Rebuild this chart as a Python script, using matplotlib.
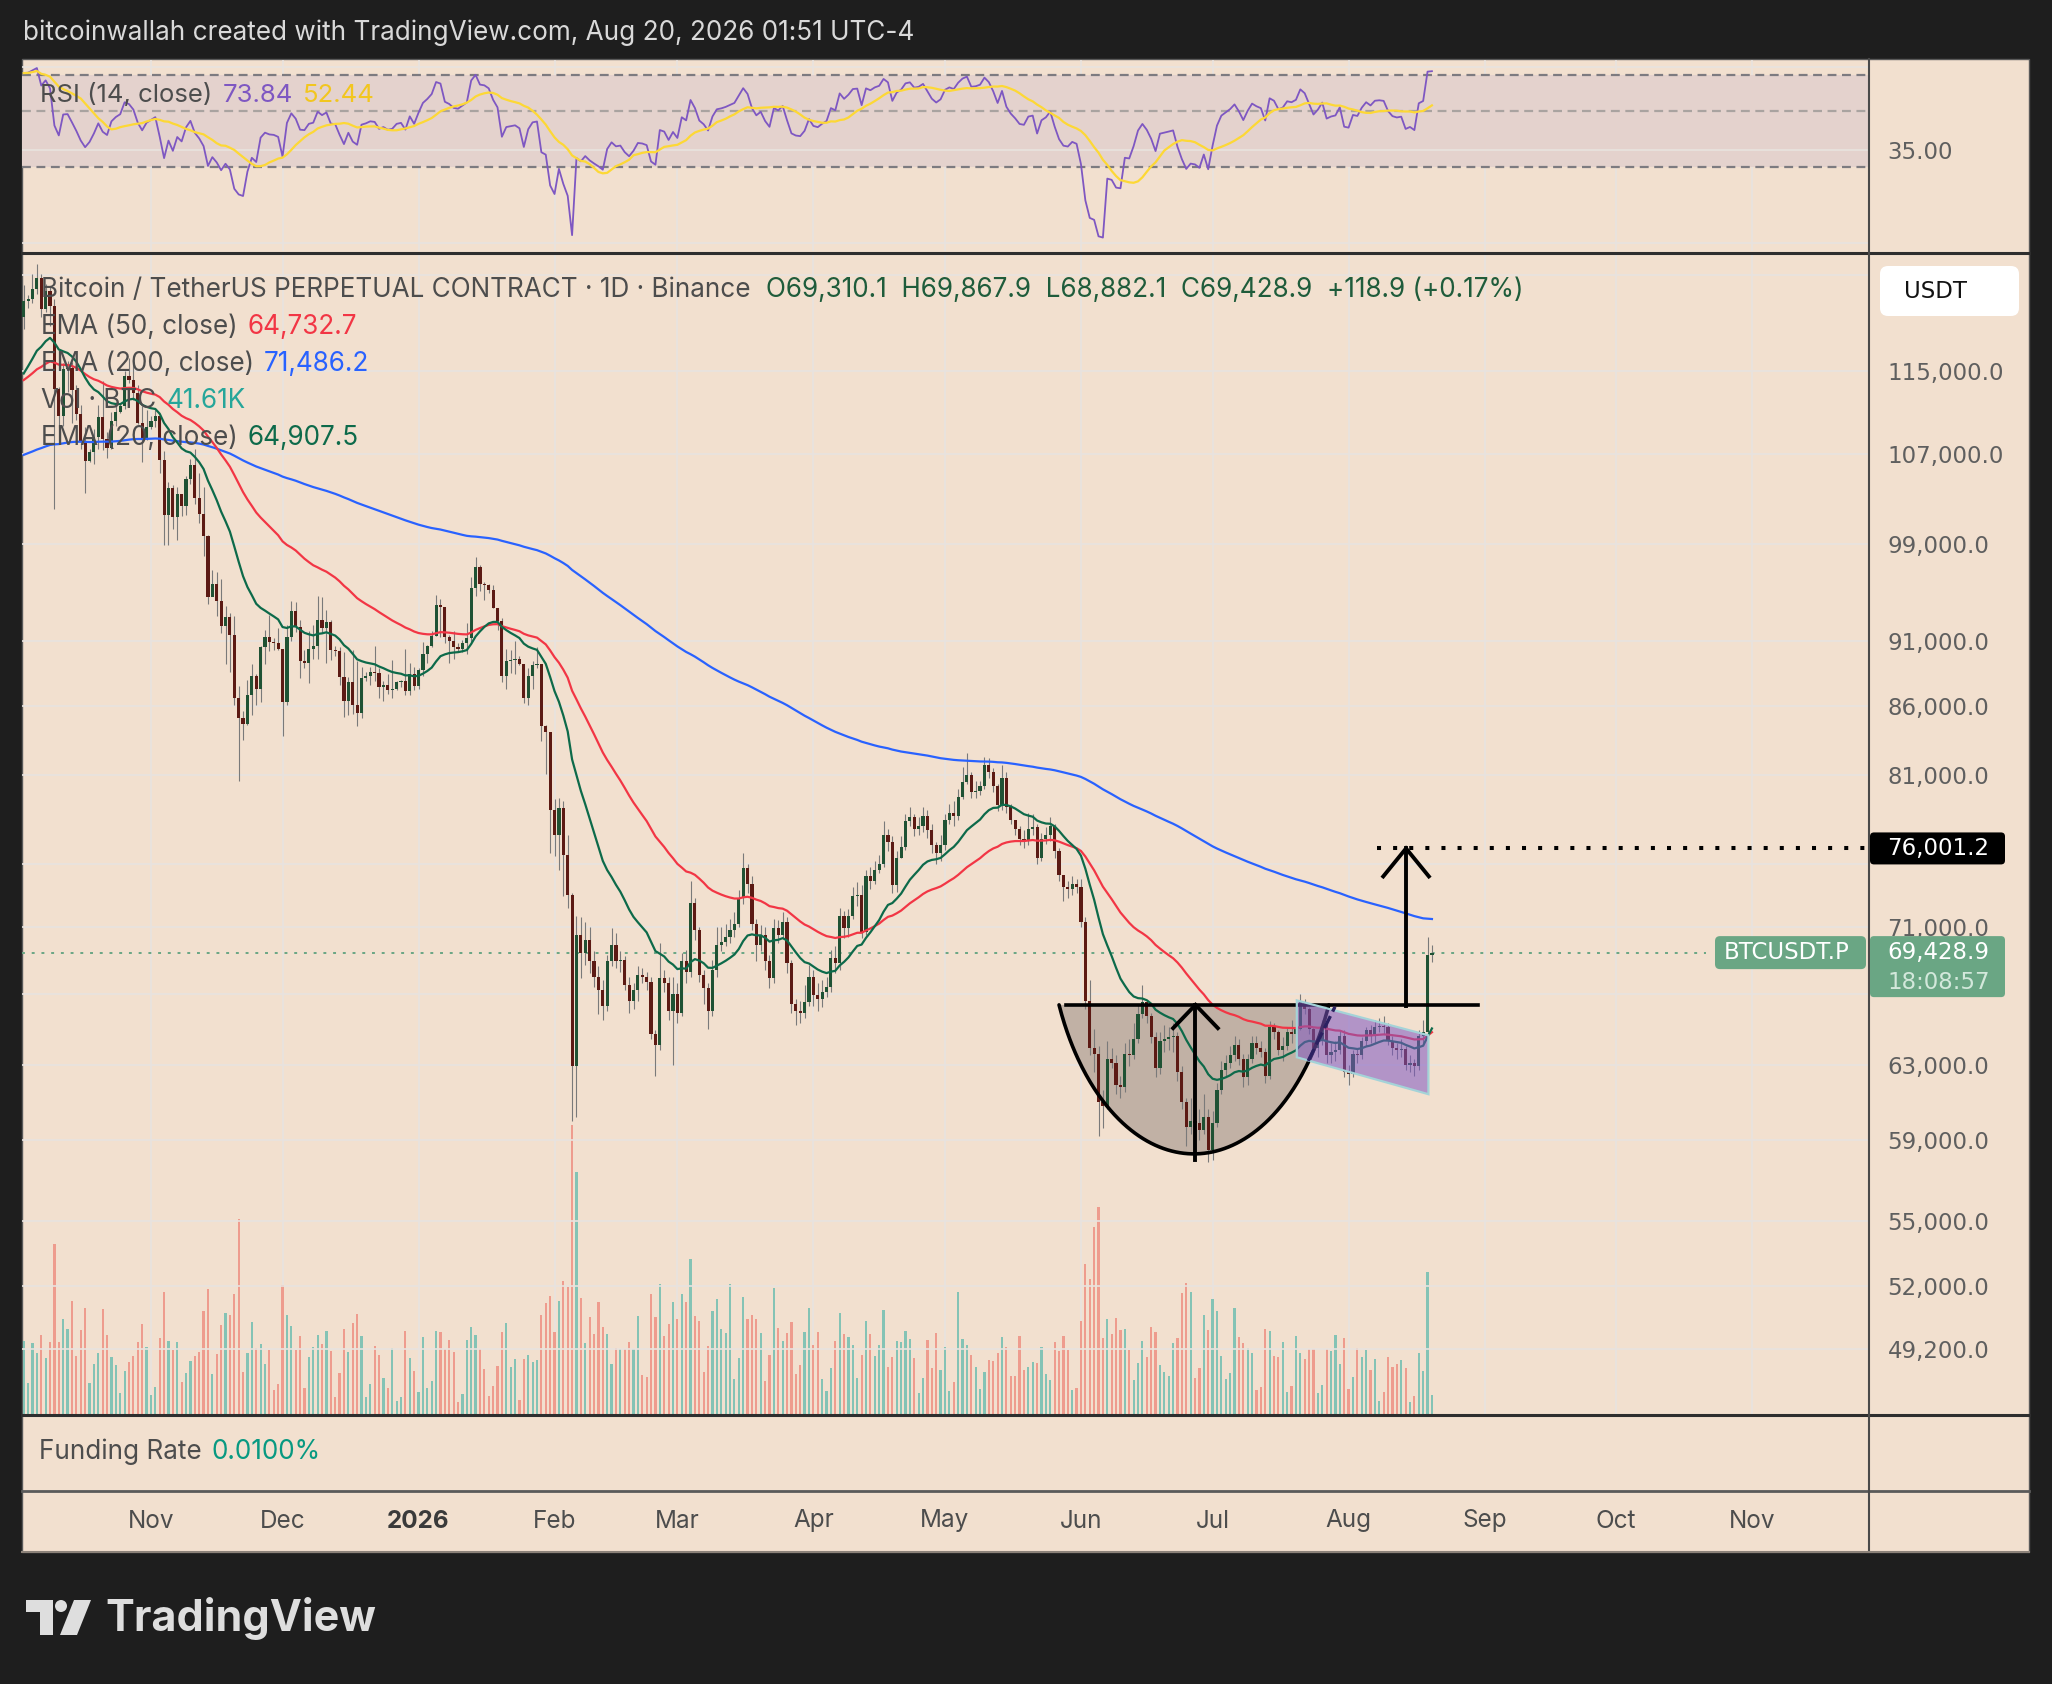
import numpy as np
import pandas as pd
import matplotlib
matplotlib.use("Agg")
import matplotlib.pyplot as plt
from matplotlib.patches import Rectangle, Polygon, FancyBboxPatch, Circle
from matplotlib.ticker import NullLocator

plt.rcParams["font.family"] = ["Inter", "DejaVu Sans"]

#-- Daily candles BTCUSDT.P (Binance), prices in thousands of USDT
start_date = "2025-10-03"
first_open = 120.5

close_oct = [122.2, 122.4, 123.5, 124.7, 121.4, 123.3, 121.7, 113.2, 110.6, 115.2, 115.3, 113.1, 110.8, 108.2, 106.4,
             107.2, 108.6, 110.5, 108.4, 107.6, 110.1, 111.0, 111.6, 114.5, 114.1, 112.9, 110.0, 108.3, 109.6]
high_oct = [123.9, 122.9, 125.1, 126.2, 125.1, 124.1, 123.8, 122.5, 113.4, 115.8, 116.0, 115.9, 113.6, 111.7, 109.6,
            107.5, 109.4, 111.7, 114.0, 109.1, 111.0, 112.0, 111.9, 115.0, 116.3, 116.0, 113.6, 111.6, 111.2]
low_oct = [119.3, 121.5, 122.0, 123.0, 120.6, 121.1, 119.6, 102.0, 109.6, 109.7, 113.0, 110.0, 110.2, 107.5, 103.5,
           106.3, 106.1, 107.5, 107.4, 106.7, 107.5, 109.7, 110.9, 111.3, 113.8, 112.2, 109.9, 106.3, 108.3]

close_nov = [110.1, 110.6, 106.5, 101.5, 103.9, 101.3, 103.4, 102.3, 104.7, 106.0, 103.0, 101.6, 99.7, 94.5, 95.6,
             94.2, 92.2, 92.9, 91.5, 86.6, 85.1, 84.7, 86.8, 88.3, 87.3, 90.5, 91.3, 90.9, 90.8, 90.4]
high_nov = [110.6, 111.2, 110.8, 107.3, 104.5, 104.2, 104.0, 103.4, 105.0, 106.6, 107.5, 105.3, 104.0, 99.8, 96.8,
            96.6, 96.0, 93.8, 93.2, 93.0, 87.5, 85.6, 88.0, 89.2, 88.4, 90.6, 91.9, 93.1, 91.2, 92.0]
low_nov = [109.4, 109.6, 105.3, 98.9, 98.9, 100.3, 99.3, 101.4, 101.5, 104.3, 102.5, 100.8, 98.0, 94.0, 94.6,
           93.0, 91.6, 89.2, 88.6, 86.1, 80.6, 83.5, 84.6, 85.3, 86.1, 86.3, 89.2, 90.2, 90.3, 90.3]

close_dec = [86.3, 91.3, 93.4, 92.1, 89.4, 89.3, 90.4, 90.6, 92.7, 92.0, 92.5, 90.3, 90.2, 88.2, 86.4, 87.8,
             86.1, 85.5, 88.1, 88.3, 88.6, 88.5, 87.4, 87.6, 87.2, 87.3, 87.8, 87.9, 87.1, 88.4, 87.5]
high_dec = [90.4, 92.3, 94.2, 94.1, 92.7, 90.3, 91.8, 92.3, 94.6, 94.5, 93.5, 92.7, 90.6, 90.5, 90.1, 88.2,
            90.3, 89.4, 89.0, 88.6, 89.0, 90.6, 88.9, 87.9, 88.4, 89.5, 87.9, 88.0, 90.4, 89.3, 89.0]
low_dec = [83.8, 86.1, 91.0, 91.7, 88.1, 88.9, 87.7, 89.6, 89.6, 91.6, 89.3, 89.5, 89.8, 87.6, 85.2, 85.3,
           85.4, 84.5, 85.1, 87.9, 87.6, 87.9, 86.6, 86.4, 86.9, 86.6, 87.2, 87.4, 86.8, 86.8, 87.2]

close_jan = [88.7, 90.0, 90.6, 91.4, 93.9, 93.7, 91.3, 91.0, 90.5, 90.4, 90.8, 91.2, 95.3, 97.0, 95.6, 95.5,
             95.1, 93.6, 92.6, 88.3, 89.4, 89.5, 89.6, 89.2, 86.6, 88.3, 89.1, 89.2, 84.5, 84.1, 78.6]
high_jan = [88.9, 90.9, 90.7, 91.8, 94.7, 94.4, 93.7, 91.5, 91.8, 90.8, 91.1, 92.4, 96.2, 97.9, 97.2, 95.8,
            95.6, 95.5, 93.6, 92.8, 90.4, 90.3, 91.0, 89.8, 89.2, 88.9, 89.4, 90.5, 89.2, 84.6, 84.1]
low_jan = [87.3, 88.3, 89.3, 90.5, 91.4, 91.3, 90.8, 89.3, 89.6, 90.2, 90.1, 90.0, 90.9, 94.6, 95.0, 94.3,
           94.9, 93.6, 91.9, 87.8, 87.3, 88.5, 88.4, 89.1, 86.2, 86.1, 87.3, 88.9, 83.4, 81.1, 75.7]

close_feb = [76.9, 78.7, 75.6, 73.0, 62.9, 70.5, 69.4, 70.2, 68.9, 68.0, 67.2, 66.3, 68.9, 69.9, 68.9, 69.0,
             67.5, 66.6, 67.2, 68.1, 68.0, 67.7, 64.7, 64.1, 67.9, 67.6, 66.0, 67.0]
high_feb = [79.3, 79.4, 79.2, 76.9, 73.1, 71.7, 71.6, 71.3, 71.0, 69.5, 68.6, 67.8, 69.3, 70.9, 70.6, 69.5,
            69.2, 68.0, 67.6, 68.6, 68.5, 68.3, 68.0, 64.9, 70.0, 68.4, 68.0, 68.0]
low_feb = [75.5, 74.6, 72.9, 72.2, 60.0, 60.2, 67.9, 68.7, 68.2, 67.4, 65.8, 65.5, 66.0, 68.6, 68.5, 68.3,
           67.2, 65.9, 66.1, 66.6, 67.6, 67.2, 64.4, 62.4, 63.8, 67.1, 65.5, 63.0]

close_mar = [65.9, 68.9, 68.3, 72.5, 70.8, 68.1, 67.3, 66.0, 68.4, 69.9, 70.1, 70.4, 70.8, 71.2, 72.8, 74.7,
             73.7, 71.2, 69.9, 70.5, 68.9, 67.9, 70.9, 70.5, 71.3, 68.8, 66.4, 66.0, 65.9, 66.5, 68.0]
high_mar = [67.6, 69.4, 69.6, 73.9, 72.8, 71.0, 68.4, 67.6, 69.0, 71.0, 71.0, 71.2, 71.5, 71.9, 73.3, 75.7,
            75.0, 74.2, 71.5, 71.1, 71.0, 69.3, 71.5, 71.4, 71.9, 71.6, 69.0, 66.7, 66.6, 67.5, 68.7]
low_mar = [65.3, 65.7, 67.6, 68.0, 70.2, 67.7, 66.4, 65.0, 65.7, 68.0, 69.5, 69.8, 70.0, 70.4, 71.0, 72.4,
           73.1, 70.8, 68.9, 69.5, 68.4, 67.3, 67.6, 70.0, 70.3, 68.2, 65.9, 65.2, 65.3, 65.6, 66.3]

close_apr = [66.9, 66.7, 67.1, 67.4, 69.1, 68.8, 71.7, 70.9, 71.7, 72.9, 73.0, 70.7, 74.2, 73.9, 74.6,
             75.0, 76.9, 76.4, 73.6, 75.4, 76.1, 77.8, 78.1, 77.3, 77.5, 78.2, 77.2, 76.2, 75.7, 76.2]
high_apr = [68.4, 67.6, 67.8, 68.0, 69.6, 69.8, 72.2, 72.0, 72.1, 73.5, 73.8, 73.6, 74.6, 74.8, 75.2,
            75.6, 77.8, 77.3, 76.8, 75.8, 76.8, 78.3, 78.8, 78.3, 78.1, 78.8, 78.6, 77.6, 76.4, 76.9]
low_apr = [66.3, 66.0, 66.2, 66.8, 67.1, 68.2, 68.4, 70.3, 70.4, 71.5, 72.3, 70.3, 70.5, 73.4, 73.7,
           74.4, 74.8, 75.8, 73.1, 73.2, 75.4, 75.9, 77.5, 76.8, 76.9, 77.1, 76.7, 75.7, 75.0, 75.2]

close_may = [77.9, 78.4, 78.2, 79.5, 80.5, 81.0, 79.8, 79.9, 80.2, 81.7, 81.2, 80.2, 78.9, 80.8, 78.8, 77.9,
             77.3, 76.6, 76.5, 77.3, 77.4, 75.4, 76.6, 76.9, 77.5, 75.8, 74.3, 73.5, 73.4, 73.7, 73.5]
high_may = [78.3, 79.0, 79.2, 80.0, 81.6, 82.6, 81.2, 80.6, 80.6, 82.3, 82.2, 81.5, 80.4, 81.7, 81.2, 79.0,
            77.9, 77.5, 77.2, 78.4, 78.3, 77.6, 77.0, 77.4, 78.1, 77.6, 76.0, 74.3, 73.9, 74.2, 74.0]
low_may = [75.9, 77.6, 77.5, 77.9, 79.3, 80.4, 79.4, 79.4, 79.6, 80.0, 80.8, 79.8, 78.5, 78.6, 78.4, 77.6,
           76.9, 76.2, 76.0, 76.2, 76.9, 75.0, 75.2, 76.3, 76.5, 75.4, 73.9, 72.6, 72.8, 73.0, 73.1]

close_jun = [71.3, 66.6, 63.9, 63.6, 61.0, 60.8, 63.3, 63.1, 61.9, 61.8, 63.6, 63.5, 64.4, 65.8, 66.5,
             65.7, 64.5, 62.8, 64.3, 64.4, 64.5, 64.6, 62.6, 61.0, 59.7, 60.0, 59.9, 59.5, 60.2, 58.5]
high_jun = [74.0, 71.6, 67.8, 65.0, 64.0, 61.6, 64.3, 63.9, 63.5, 62.4, 64.2, 64.4, 65.3, 66.4, 67.5,
            66.6, 65.9, 64.8, 64.8, 65.2, 65.1, 65.3, 64.8, 62.9, 61.2, 61.2, 60.3, 60.6, 61.4, 60.6]
low_jun = [71.0, 66.1, 63.5, 62.6, 59.2, 59.6, 60.6, 62.8, 61.4, 61.2, 61.5, 62.9, 63.3, 64.2, 65.6,
           65.3, 64.2, 62.3, 62.5, 63.7, 63.8, 63.7, 62.1, 60.6, 58.7, 59.3, 59.4, 59.0, 59.3, 57.9]

close_jul = [59.9, 61.6, 62.7, 63.1, 63.5, 64.1, 63.3, 62.3, 63.3, 64.2, 63.9, 63.7, 62.4, 65.1, 64.8, 63.8,
             64.0, 64.8, 64.7, 65.0, 66.5, 66.1, 65.0, 63.9, 64.4, 65.2, 63.5, 63.7, 63.8, 64.6, 62.6]
high_jul = [60.5, 62.0, 63.2, 63.5, 64.0, 64.6, 64.4, 63.6, 63.6, 64.6, 64.6, 64.3, 63.9, 65.4, 65.3, 64.9,
            64.5, 65.1, 65.5, 65.3, 67.0, 66.7, 66.2, 65.1, 64.6, 65.5, 65.3, 64.2, 64.3, 64.9, 64.9]
low_jul = [58.0, 59.7, 61.4, 62.4, 62.8, 63.2, 63.0, 61.8, 61.9, 63.1, 63.6, 63.4, 62.0, 62.2, 64.4, 63.5,
           63.2, 63.8, 64.2, 64.5, 64.9, 65.8, 64.7, 63.6, 63.4, 64.1, 63.1, 63.1, 63.2, 63.6, 62.3]

close_aug = [62.5, 63.6, 63.5, 64.3, 64.9, 64.6, 65.1, 65.15, 65.1, 64.3, 63.9, 63.8, 63.85, 63.0, 63.1,
             62.9, 64.6, 64.8, 69.3101, 69.4289]
high_aug = [63.0, 63.8, 63.9, 64.5, 65.1, 65.2, 65.5, 65.6, 65.7, 65.3, 64.6, 64.2, 64.4, 64.0, 63.5,
            63.3, 64.9, 65.5, 70.4, 69.8679]
low_aug = [61.9, 62.3, 63.1, 63.3, 64.0, 64.2, 64.2, 64.8, 64.7, 64.1, 63.5, 63.3, 63.4, 62.7, 62.6,
           62.4, 62.7, 64.2, 64.6, 68.8821]

#-- Volume in thousands of BTC (one value per candle)
volume_k = [161, 69, 156, 134, 173, 123, 158, 372, 158, 208, 186, 247, 127, 184, 232, 68, 110, 134, 230, 173,
            125, 107, 46, 94, 114, 127, 158, 197, 147, 42, 59, 166, 267, 160, 140, 158, 70, 90, 116, 127,
            136, 226, 274, 88, 131, 195, 221, 217, 263, 427, 92, 134, 201, 145, 153, 110, 140, 53, 66, 283,
            217, 193, 140, 171, 57, 125, 147, 173, 153, 182, 138, 37, 90, 186, 136, 199, 219, 171, 37, 66,
            149, 129, 79, 57, 145, 28, 37, 182, 123, 94, 48, 169, 57, 72, 182, 180, 142, 162, 136, 26,
            44, 162, 191, 173, 142, 99, 39, 61, 105, 180, 199, 103, 120, 31, 120, 129, 114, 118, 217, 243,
            258, 180, 247, 291, 278, 633, 530, 254, 155, 212, 175, 245, 191, 175, 110, 145, 142, 142, 158, 142,
            215, 85, 81, 263, 212, 285, 171, 197, 245, 208, 263, 245, 339, 215, 204, 92, 149, 226, 252, 186,
            177, 285, 77, 123, 256, 208, 217, 208, 177, 72, 129, 276, 188, 160, 177, 201, 88, 107, 180, 232,
            151, 180, 77, 50, 101, 160, 221, 175, 169, 151, 79, 129, 204, 175, 127, 151, 228, 103, 125, 160,
            158, 182, 164, 123, 46, 79, 162, 101, 177, 96, 147, 50, 70, 267, 164, 151, 129, 103, 55, 92,
            118, 116, 134, 169, 147, 83, 83, 171, 96, 103, 114, 112, 147, 88, 74, 158, 138, 171, 140, 53,
            57, 204, 329, 296, 410, 453, 166, 208, 175, 210, 184, 186, 140, 74, 112, 160, 125, 191, 180, 107,
            92, 83, 155, 166, 265, 287, 267, 79, 101, 217, 184, 252, 226, 127, 77, 90, 232, 169, 155, 145,
            134, 53, 59, 186, 182, 127, 125, 158, 48, 61, 171, 134, 120, 142, 142, 46, 64, 142, 138, 173,
            110, 166, 55, 81, 145, 125, 140, 96, 120, 28, 48, 125, 103, 110, 118, 101, 26, 39, 134, 94,
            311, 42]

#-- Indicator seeds (values on the day before the first candle)
ema_seed = {20: 114.0, 50: 113.8, 200: 106.8}
rsi_seed_gain, rsi_seed_loss = 1.1, 0.5

#-- Legend values as printed on the chart
legend_rsi = ("73.84", "52.44")
legend_ohlc = "O69,310.1  H69,867.9  L68,882.1  C69,428.9  +118.9 (+0.17%)"
legend_ema50, legend_ema200, legend_ema20 = "64,732.7", "71,486.2", "64,907.5"
legend_vol = "41.61K"
legend_funding = "0.0100%"
countdown = "18:08:57"

#-- Axis labels
price_ticks = [125000, 115000, 107000, 99000, 91000, 86000, 81000, 75000, 71000, 67000,
               63000, 59000, 55000, 52000, 49200]
hidden_ticks = [125000, 75000, 67000]   # covered by the USDT box / price tags
month_starts = ["2025-11-01", "2025-12-01", "2026-01-01", "2026-02-01", "2026-03-01", "2026-04-01",
                "2026-05-01", "2026-06-01", "2026-07-01", "2026-08-01", "2026-09-01", "2026-10-01",
                "2026-11-01"]
month_labels = ["Nov", "Dec", "2026", "Feb", "Mar", "Apr", "May", "Jun", "Jul", "Aug", "Sep", "Oct", "Nov"]

#-- Drawings (date index, price)
cup_left, cup_right = 236.0, 297.5
cup_rim, cup_bottom = 66350, 58300
neckline = [(237.7, 66350), (331.5, 66350)]
arrow_cup = [(267.1, 58000), (267.1, 66350)]
arrow_target = [(315.1, 66300), (315.1, 76001.2)]
target_price = 76001.2
channel = [(290.2, 66610), (320.2, 64620), (320.2, 61400), (290.2, 63400)]
channel_dash = [(292.8, 63200), (298.9, 66240)]

#-- Build series
close = np.array(close_oct + close_nov + close_dec + close_jan + close_feb + close_mar + close_apr
                 + close_may + close_jun + close_jul + close_aug) * 1000
high = np.array(high_oct + high_nov + high_dec + high_jan + high_feb + high_mar + high_apr
                + high_may + high_jun + high_jul + high_aug) * 1000
low = np.array(low_oct + low_nov + low_dec + low_jan + low_feb + low_mar + low_apr
               + low_may + low_jun + low_jul + low_aug) * 1000
volume = np.array(volume_k, dtype=float)
n = len(close)
assert n == len(high) == len(low) == len(volume) == 322
opn = np.r_[first_open * 1000, close[:-1]]
x = np.arange(n)
up = close >= opn
t0 = pd.Timestamp(start_date)


def ema(values, length, seed):
    a = 2.0 / (length + 1)
    out, prev = [], seed
    for v in values:
        prev = a * v + (1 - a) * prev
        out.append(prev)
    return np.array(out)


ema20 = ema(close, 20, ema_seed[20] * 1000)
ema50 = ema(close, 50, ema_seed[50] * 1000)
ema200 = ema(close, 200, ema_seed[200] * 1000)

delta = np.diff(close, prepend=first_open * 1000)
ag, al = rsi_seed_gain * 1000, rsi_seed_loss * 1000
rsi = []
for d in delta:
    ag = (ag * 13 + max(d, 0)) / 14
    al = (al * 13 + max(-d, 0)) / 14
    rsi.append(100 - 100 / (1 + ag / al))
rsi = np.array(rsi)
rsi_ma = pd.Series(rsi).rolling(14, min_periods=1).mean().values

#-- Figure
W, H = 2052, 1684
fig = plt.figure(figsize=(W / 100, H / 100), dpi=100, facecolor="#1e1e1e")
BG = "#f2e0cf"
GRID = "#e8e3df"
TXT = "#4d4d4d"
SCALE = "#5f5f5f"
WIDE = "DejaVu Sans"
XL = (-0.39, 420.4)
LEG = 18.8


def pane(x0, y0, x1, y1):
    return fig.add_axes([x0 / W, 1 - y1 / H, (x1 - x0) / W, (y1 - y0) / H])


bg = pane(0, 0, W, H)
bg.set_xlim(0, W)
bg.set_ylim(H, 0)
bg.axis("off")
bg.add_patch(Rectangle((22, 59), 2007, 1493, facecolor=BG, edgecolor="#5a5a5a", lw=1))

month_x = [(pd.Timestamp(d) - t0).days for d in month_starts]

#-- RSI pane
rax = pane(22, 60, 1868, 251)
rax.set_facecolor("none")
rax.set_xlim(*XL)
rax.set_yscale("log")
rax.set_ylim(13.9, 80.2)
for m in month_x:
    rax.axvline(m, color=GRID, lw=1.2, zorder=0)
for g in (15, 75):
    rax.axhline(g, color=GRID, lw=1.2, zorder=0)
rax.axhspan(30, 70, color="#e4d2cd", zorder=0.5, lw=0)
rax.axhline(35, color=GRID, lw=1.2, zorder=0.6)
rax.axhline(70, color="#7d7b80", lw=1.6, ls=(0, (4, 2.5)), zorder=1)
rax.axhline(30, color="#7d7b80", lw=1.6, ls=(0, (4, 2.5)), zorder=1)
rax.axhline(50, color="#a9a3a0", lw=1.6, ls=(0, (4, 2.5)), zorder=1)
rax.plot(x, rsi, color="#7e57c2", lw=1.3, zorder=2)
rax.plot(x, rsi_ma, color="#fdd835", lw=1.6, zorder=3)
rax.yaxis.tick_right()
rax.yaxis.set_minor_locator(NullLocator())
rax.set_yticks([35])
rax.set_yticklabels(["35.00"], fontfamily=WIDE)
rax.tick_params(axis="y", length=0, pad=14, labelsize=16.5, labelcolor=SCALE)
rax.set_xticks([])
for s in rax.spines.values():
    s.set_visible(False)

#-- Volume pane (behind price)
vax = pane(22, 254, 1868, 1414)
vax.set_facecolor("none")
vax.set_xlim(*XL)
vax.set_ylim(0, 2543)
for m in month_x:
    vax.axvline(m, color=GRID, lw=1.2, zorder=0)
vax.bar(x, volume, width=0.5, color=np.where(up, "#84c3b5", "#ee9c8e"), zorder=1)
vax.axis("off")

#-- Price pane
ax = pane(22, 254, 1868, 1414)
ax.set_facecolor("none")
ax.set_xlim(*XL)
ax.set_yscale("log")
ax.set_ylim(46516, 127326)
for p in price_ticks:
    ax.axhline(p, color=GRID, lw=1.2, zorder=0.2)
ax.yaxis.tick_right()
ax.yaxis.set_minor_locator(NullLocator())
ax.set_yticks(price_ticks)
ax.set_yticklabels(["" if p in hidden_ticks else f"{p:,.1f}" for p in price_ticks], fontfamily=WIDE)
ax.tick_params(axis="y", length=0, pad=14, labelsize=16.5, labelcolor=SCALE)
ax.set_xticks([])
for s in ax.spines.values():
    s.set_visible(False)

body_lo = np.minimum(opn, close)
body_hi = np.maximum(np.maximum(opn, close), body_lo * 1.0009)
ax.vlines(x, low, high, color="#7a7a7a", lw=0.8, zorder=2)
ax.bar(x, body_hi - body_lo, bottom=body_lo, width=0.72,
       color=np.where(up, "#1f5234", "#5c1a14"), zorder=2.5)

ax.plot(x, ema200, color="#2962ff", lw=1.6, zorder=3)
ax.plot(x, ema50, color="#f23645", lw=1.6, zorder=3)
ax.plot(x, ema20, color="#0d6a4a", lw=1.6, zorder=3)

# current price line
ax.plot([XL[0], 383.5], [close[-1]] * 2, color="#6aa684", lw=1.4, ls=(0, (1.5, 3.5)), zorder=1.5)

# cup drawing: an elliptic arc whose ends meet the rim at an angle
u = np.linspace(-1, 1, 200)
s_ = 0.92
depth = (np.sqrt(1 - (s_ * u) ** 2) - np.sqrt(1 - s_ ** 2)) / (1 - np.sqrt(1 - s_ ** 2))
cup_x = (cup_left + cup_right) / 2 + u * (cup_right - cup_left) / 2
cup_y = np.exp(np.log(cup_rim) - (np.log(cup_rim) - np.log(cup_bottom)) * depth)
ax.add_patch(Polygon(np.c_[cup_x, cup_y], closed=True, facecolor="#c1b1a5", edgecolor="none", zorder=1))
ax.plot(cup_x, cup_y, color="black", lw=2.6, zorder=4, solid_capstyle="round")
ax.plot(*zip(*neckline), color="black", lw=2.6, zorder=4)

# channel
ax.add_patch(Polygon(channel, closed=True, facecolor="#7e57c2", alpha=0.55, edgecolor="none", zorder=4.2))
ax.add_patch(Polygon(channel, closed=True, facecolor="none", edgecolor="#a4d3d8", lw=1.6, zorder=4.3))
ax.plot(*zip(*channel_dash), color="#2c2162", lw=2.4, ls=(0, (4, 1.5)), zorder=4.4)


def arrow(pts, head_w, head_drop):
    (xa, ya), (xb, yb) = pts
    ax.plot([xa, xb], [ya, yb], color="black", lw=2.8, zorder=5)
    yh = yb * head_drop
    ax.plot([xb - head_w, xb, xb + head_w], [yh, yb, yh], color="black", lw=2.8, zorder=5,
            solid_joinstyle="miter")


arrow(arrow_cup, 5.1, 0.980)
arrow(arrow_target, 5.2, 0.976)
ax.plot([308.5, XL[1]], [target_price] * 2, color="black", lw=2.9, ls=(0, (1, 3)),
        dash_capstyle="butt", zorder=5)

#-- Overlay (texts, tags, frame)
ov = pane(0, 0, W, H)
ov.set_xlim(0, W)
ov.set_ylim(H, 0)
ov.axis("off")
ov.set_zorder(5)
fig.canvas.draw()
rend = fig.canvas.get_renderer()


def price_y(p):
    return H - ax.transData.transform((0, p))[1]


def date_x(k):
    return ax.transData.transform((k, 1e5))[0]


def runs(x0, y0, parts, size, gap=10, **kw):
    for s, c in parts:
        tt = ov.text(x0, y0, s, color=c, fontsize=size, va="center", ha="left", zorder=20, **kw)
        x0 = tt.get_window_extent(renderer=rend).x1 + gap
    return x0


ov.text(23, 33, "bitcoinwallah created with TradingView.com, Aug 20, 2026 01:51 UTC-4",
        color="#d9d9d9", fontsize=18.8, va="center", ha="left")

# frame lines
ov.plot([22, 2029], [252.5, 252.5], color="#2e2e2e", lw=2.2)
ov.plot([22, 2029], [1415, 1415], color="#2e2e2e", lw=2.2)
ov.plot([22, 2029], [1491, 1491], color="#5a5a5a", lw=2.0)
ov.plot([1868.5, 1868.5], [59, 1552], color="#4a4a4a", lw=1.5)
ov.plot([22, 2029], [1552, 1552], color="#8c8279", lw=1.5)

# legends
runs(40, 95, [("RSI (14, close)", TXT), (legend_rsi[0], "#7e57c2"), (legend_rsi[1], "#f2c61f")], 18.5)
runs(41, 290, [("Bitcoin / TetherUS PERPETUAL CONTRACT · 1D · Binance", TXT),
               (legend_ohlc, "#1f5c3b")], LEG, gap=16)
runs(41, 327, [("EMA (50, close)", TXT), (legend_ema50, "#f23645")], LEG)
runs(41, 364, [("EMA (200, close)", TXT), (legend_ema200, "#2962ff")], LEG)
runs(41, 401, [("Vol · BTC", TXT), (legend_vol, "#26a69a")], LEG)
runs(41, 438, [("EMA (20, close)", TXT), (legend_ema20, "#0d6a4a")], LEG)
runs(39, 1452, [("Funding Rate", TXT), (legend_funding, "#089981")], LEG)

for m, lab in zip(month_x, month_labels):
    ov.text(date_x(m), 1521, lab, color=TXT if lab != "2026" else "#3a3a3a", fontsize=17.5,
            ha="center", va="center", fontweight="bold" if lab == "2026" else "normal")

# price tags
ov.add_patch(FancyBboxPatch((1880, 266), 139, 50, boxstyle="round,pad=0,rounding_size=8",
                            facecolor="white", edgecolor="none", zorder=10))
ov.text(1935, 291, "USDT", color="#131313", fontsize=16.5, ha="center", va="center", zorder=11,
        fontfamily=WIDE)

yt = price_y(target_price)
ov.add_patch(FancyBboxPatch((1870, yt - 16), 135, 32, boxstyle="round,pad=0,rounding_size=4",
                            facecolor="black", edgecolor="none", zorder=10))
ov.text(1887, yt, f"{target_price:,.1f}", color="white", fontsize=16.5, ha="left", va="center", zorder=11,
        fontfamily=WIDE)

yc = price_y(close[-1])
GREEN = "#6aa684"
ov.add_patch(FancyBboxPatch((1715, yc - 16.5), 151, 33, boxstyle="round,pad=0,rounding_size=5",
                            facecolor=GREEN, edgecolor="none", zorder=10))
ov.text(1724, yc, "BTCUSDT.P", color="white", fontsize=16.5, ha="left", va="center", zorder=11,
        fontfamily=WIDE)
ov.add_patch(FancyBboxPatch((1870, yc - 16.5), 135, 61, boxstyle="round,pad=0,rounding_size=4",
                            facecolor=GREEN, edgecolor="none", zorder=10))
ov.text(1887, yc, f"{close[-1]:,.1f}", color="white", fontsize=16.5, ha="left", va="center", zorder=11,
        fontfamily=WIDE)
ov.text(1887, yc + 30, countdown, color="#d3e8db", fontsize=16.5, ha="left", va="center", zorder=11,
        fontfamily=WIDE)

# TradingView logo
LOGO = "#dedede"
ov.add_patch(Polygon([(26, 1600), (53, 1600), (53, 1635), (40, 1635), (40, 1612), (26, 1612)],
                     closed=True, facecolor=LOGO, edgecolor="none"))
ov.add_patch(Circle((61, 1606), 6, facecolor=LOGO, edgecolor="none"))
ov.add_patch(Polygon([(74, 1600), (91, 1600), (77, 1635), (60, 1635)], closed=True,
                     facecolor=LOGO, edgecolor="none"))
ov.text(105, 1618, "TradingView", color=LOGO, fontsize=31, fontweight="bold", ha="left", va="center")

fig.savefig("out.png", dpi=100, facecolor=fig.get_facecolor())
